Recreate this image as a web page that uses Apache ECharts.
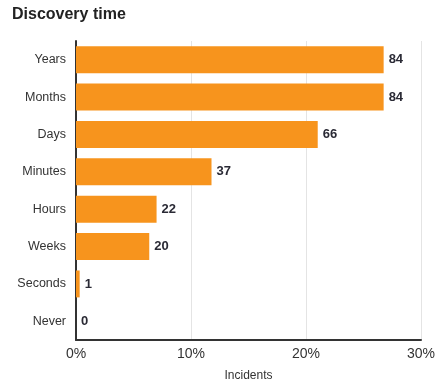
<!DOCTYPE html>
<html><head><meta charset="utf-8">
<script src="https://cdn.jsdelivr.net/npm/echarts@6/dist/echarts.min.js"></script>
<style>html,body{margin:0;padding:0;background:#fff}#c{width:447px;height:387px}</style>
</head><body><div id="c"></div>
<script>
const categories = ["Years","Months","Days","Minutes","Hours","Weeks","Seconds","Never"];
const counts = [84,84,66,37,22,20,1,0];
const tickLabels = ["0%","10%","20%","30%"];
const total = counts.reduce((a,b)=>a+b,0);
const pct = counts.map(v => v/total*100);
const chart = echarts.init(document.getElementById('c'));
chart.setOption({
  animation:false,
  title:{text:"Discovery time",left:7,top:2,textStyle:{fontFamily:"Liberation Sans, Arial",fontSize:16,fontWeight:"bold",color:"#222"}},
  grid:{left:76,right:26,top:41,bottom:44},
  xAxis:{type:"value",min:0,max:30,interval:10,
    name:"Incidents",nameLocation:"middle",nameGap:30,
    nameTextStyle:{fontFamily:"Liberation Sans, Arial",fontSize:12,color:"#333"},
    axisLine:{show:true,lineStyle:{color:"#333",width:2}},
    axisTick:{show:false},
    axisLabel:{fontFamily:"Liberation Sans, Arial",fontSize:14,color:"#333",margin:7,
      formatter:(v)=>tickLabels[Math.round(v/10)]},
    splitLine:{show:true,lineStyle:{color:"#e4e4e4",width:1}}},
  yAxis:{type:"category",inverse:true,data:categories,
    axisLine:{show:true,lineStyle:{color:"#333",width:2}},
    axisTick:{show:false},
    axisLabel:{fontFamily:"Liberation Sans, Arial",fontSize:12.5,color:"#333",margin:10}},
  series:[{type:"bar",data:pct,barCategoryGap:"28%",
    itemStyle:{color:"#F7941D"},
    label:{show:true,position:"right",distance:5,fontFamily:"Liberation Sans, Arial",fontSize:13,fontWeight:"bold",color:"#2a2a35",
      formatter:(p)=>counts[p.dataIndex]}}]
});
</script></body></html>
